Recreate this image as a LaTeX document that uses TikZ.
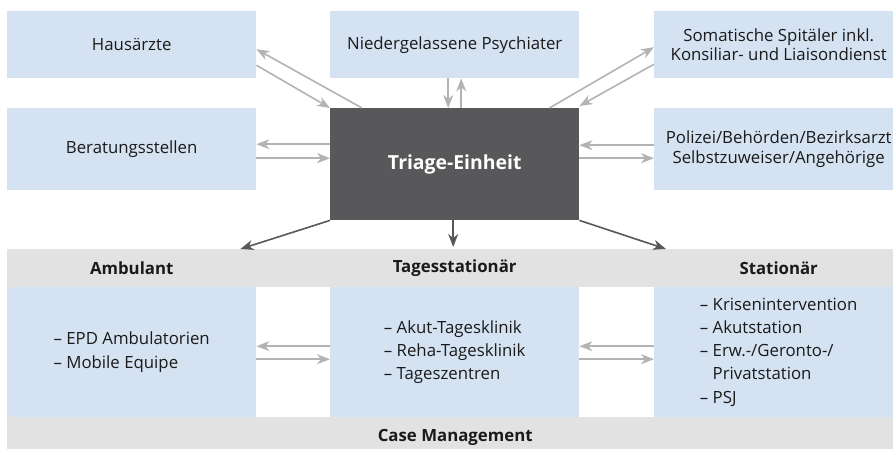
\documentclass[tikz,border=0pt]{standalone}
\usepackage{fontspec}
\setmainfont{Open Sans}
\usetikzlibrary{arrows.meta}
\definecolor{boxblue}{HTML}{D4E2F2}
\definecolor{bandgrey}{HTML}{E2E2E2}
\definecolor{triagegrey}{HTML}{58585A}
\definecolor{arrowgrey}{HTML}{B3B3B3}
\definecolor{textdark}{HTML}{1A1A1A}
\begin{document}
\begin{tikzpicture}[x=1pt,y=-1pt,
    box/.style={fill=boxblue,text=textdark,anchor=north west,inner sep=0pt,
      align=center,minimum width=249pt,minimum height=#1,font=\fontsize{16.8}{19.5}\selectfont},
    listbox/.style={fill=boxblue,text=textdark,anchor=north west,inner sep=0pt,
      align=left,minimum width=249pt,minimum height=130pt,font=\fontsize{16.8}{23.2}\selectfont},
    band/.style={fill=bandgrey,anchor=north west,inner sep=0pt,minimum width=896pt},
    heading/.style={anchor=north west,inner sep=0pt,minimum width=249pt,minimum height=38pt,
      text=textdark,font=\fontsize{16.8}{19}\selectfont\bfseries},
    link/.style={draw=arrowgrey,line width=1.6pt,-{Stealth[length=13pt,width=10pt,inset=4pt]}},
    darklink/.style={draw=triagegrey,line width=1.6pt,-{Stealth[length=13pt,width=10pt,inset=4pt]}}]
  \useasboundingbox (0,0) rectangle (893,448);

  % Zuweiser
  \node[box=67pt] (haus) at (7,11) {Hausärzte};
  \node[box=67pt] (psych) at (330,11) {Niedergelassene Psychiater};
  \node[box=67pt] (soma) at (654,11) {Somatische Spitäler inkl.\\Konsiliar- und Liaisondienst};
  \node[box=82pt] (berat) at (7,108) {Beratungsstellen};
  \node[box=82pt] (poliz) at (654,108) {Polizei/Behörden/Bezirksarzt\\Selbstzuweiser/Angehörige};

  % Triage
  \node[fill=triagegrey,text=white,anchor=north west,inner sep=0pt,
    minimum width=249pt,minimum height=112pt,
    font=\fontsize{19.4}{22}\selectfont\bfseries] (triage) at (330,108) {Triage-Einheit};

  % Behandlungsstufen
  \node[band,minimum height=38pt] (stufen) at (7,249) {};
  \node[heading] (hamb) at (7,249) {Ambulant};
  \node[heading] (htag) at (330,249) {Tagesstationär};
  \node[heading] (hstat) at (654,249) {Stationär};
  \node[listbox] (amb) at (7,287) {– EPD Ambulatorien\\– Mobile Equipe};
  \node[listbox] (tages) at (330,287) {– Akut-Tagesklinik\\– Reha-Tagesklinik\\– Tageszentren};
  \node[listbox] (stat) at (654,287) {– Krisenintervention\\– Akutstation\\– Erw.-/Geronto-/\\\phantom{– }Privatstation\\– PSJ};
  \node[band,minimum height=40pt,text=textdark,
    font=\fontsize{16.8}{19}\selectfont\bfseries] (case) at (7,417) {Case Management};

  % Pfeile Zuweiser <-> Triage
  \draw[link] ([xshift=32pt]triage.north west) -- ([yshift=-4.5pt]haus.east);
  \draw[link] ([yshift=-20.5pt]haus.east) -- (triage.north west);
  \draw[link] ([xshift=-6.5pt]psych.south) -- ([xshift=-6.5pt]triage.north);
  \draw[link] ([xshift=6.5pt]triage.north) -- ([xshift=6.5pt]psych.south);
  \draw[link] ([xshift=-30pt]triage.north east) -- ([yshift=-2.5pt]soma.west);
  \draw[link] ([yshift=-19.5pt]soma.west) -- ([yshift=2pt]triage.north east);
  \draw[link] ([yshift=20pt]triage.west) -- ([yshift=5pt]berat.east);
  \draw[link] ([yshift=-9pt]berat.east) -- ([yshift=6pt]triage.west);
  \draw[link] ([yshift=4pt]poliz.west) -- ([yshift=19pt]triage.east);
  \draw[link] ([yshift=6pt]triage.east) -- ([yshift=-9pt]poliz.west);

  % Triage -> Stufen
  \draw[darklink] (triage.south west) -- ([xshift=-16pt]hamb.north east);
  \draw[darklink] ([xshift=-1.5pt]triage.south) -- ([xshift=-1.5pt,yshift=2pt]htag.north);
  \draw[darklink] (triage.south east) -- ([xshift=12pt]hstat.north west);

  % Stufen untereinander
  \draw[link] ([yshift=6pt]tages.west) -- ([yshift=6pt]amb.east);
  \draw[link] ([yshift=-7pt]amb.east) -- ([yshift=-7pt]tages.west);
  \draw[link] ([yshift=6pt]stat.west) -- ([yshift=6pt]tages.east);
  \draw[link] ([yshift=-7pt]tages.east) -- ([yshift=-7pt]stat.west);
\end{tikzpicture}
\end{document}
